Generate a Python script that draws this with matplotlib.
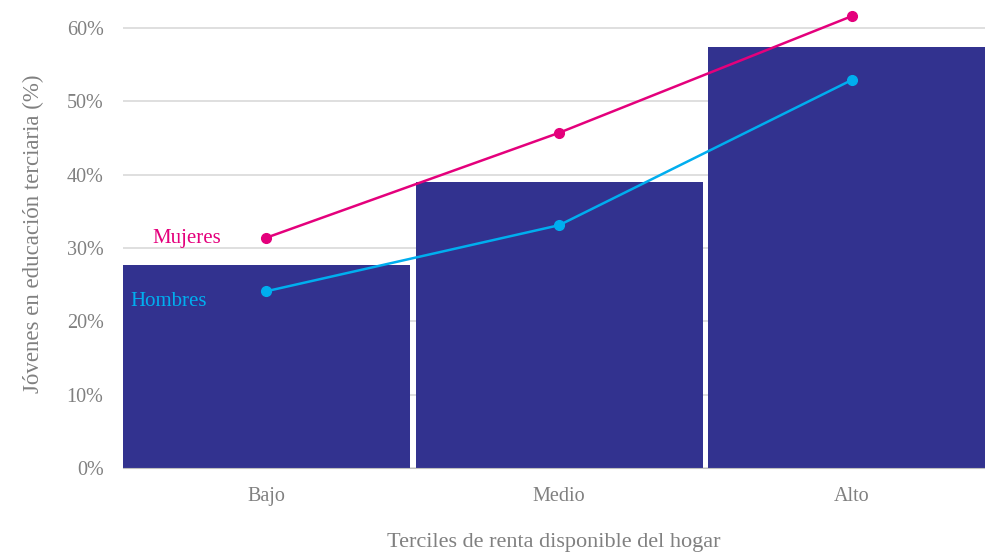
import numpy as np
import matplotlib
matplotlib.use("Agg")
import matplotlib.pyplot as plt
from matplotlib.ticker import FuncFormatter

# --- Datos ---
terciles = ["Bajo", "Medio", "Alto"]
total = [27.7, 39.0, 57.4]
mujeres = [31.4, 45.7, 61.6]
hombres = [24.1, 33.1, 52.9]

plt.rcParams['font.family'] = ['Liberation Serif', 'DejaVu Serif']

GRIS = '#808080'
AZUL = '#32328F'
ROSA = '#E4007C'
CELESTE = '#00AEEF'

fig = plt.figure(figsize=(9.85, 5.54), dpi=100)
ax = fig.add_axes([0.1249, 0.1552, 0.8751, 0.8448])

x = np.arange(len(terciles))
ax.bar(x, total, width=0.98, color=AZUL, zorder=2)
ax.plot(x, mujeres, color=ROSA, lw=1.8, marker='o', ms=7, zorder=3)
ax.plot(x, hombres, color=CELESTE, lw=1.8, marker='o', ms=7, zorder=3)

ax.text(-0.39, mujeres[0] - 0.1, "Mujeres", color=ROSA, fontsize=15, va='center', ha='left')
ax.text(-0.465, hombres[0] - 1.4, "Hombres", color=CELESTE, fontsize=15, va='center', ha='left')

ax.set_xlim(-0.49, 2.455)
ax.set_ylim(0, 63.8)
ax.set_yticks(np.arange(0, 61, 10))
ax.yaxis.set_major_formatter(FuncFormatter(lambda v, p: f"{v:.0f}%"))
ax.set_xticks(x)
ax.set_xticklabels(terciles)

ax.grid(axis='y', color='#d9d9d9', lw=1.2, zorder=0)
for s in ['top', 'right', 'left']:
    ax.spines[s].set_visible(False)
ax.spines['bottom'].set_color('#bfbfbf')
ax.spines['bottom'].set_zorder(4)
ax.tick_params(axis='both', length=0, colors=GRIS, labelsize=14.5)
ax.tick_params(axis='y', pad=14)
ax.tick_params(axis='x', pad=14)

ax.set_ylabel("Jóvenes en educación terciaria (%)", color=GRIS, fontsize=16.5, labelpad=16)
ax.set_xlabel("Terciles de renta disponible del hogar", color=GRIS, fontsize=16, labelpad=19)

fig.savefig("out.png", dpi=100)
